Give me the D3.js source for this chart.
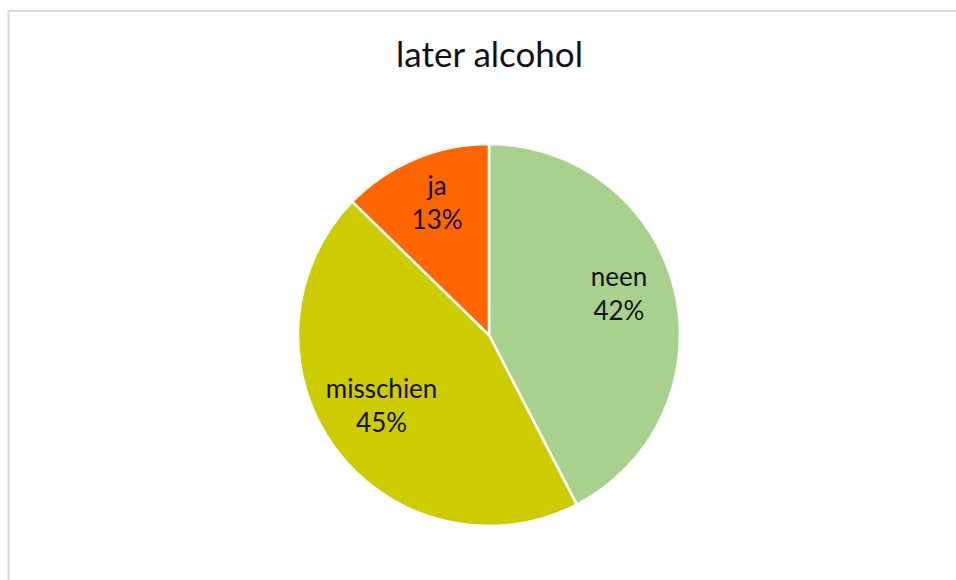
<!DOCTYPE html>
<html>
<head>
<meta charset="utf-8">
<script src="https://cdn.jsdelivr.net/npm/d3@7"></script>
<style>
  html, body { margin: 0; padding: 0; background: #fff; }
  svg { display: block; }
  text { font-family: Lato, "Open Sans", sans-serif; fill: #111; }
</style>
</head>
<body>
<svg id="chart" width="956" height="580"></svg>
<script>
const title = "later alcohol";
const categories = ["neen", "misschien", "ja"];
const values = [42.4, 44.9, 12.7];
const colors = ["#a9d18e", "#cccc00", "#ff6600"];

const W = 956, H = 580;
const cx = 489, cy = 335, R = 191;

const svg = d3.select("#chart");

// chart frame border
svg.append("rect")
  .attr("x", 8.5).attr("y", 11).attr("width", 1200).attr("height", 1200)
  .attr("fill", "none").attr("stroke", "#d9d9d9").attr("stroke-width", 2);

svg.append("text")
  .attr("x", 489.5).attr("y", 67)
  .attr("text-anchor", "middle")
  .style("font-size", "35px")
  .text(title);

const data = categories.map((c, i) => ({ cat: c, value: values[i], color: colors[i] }));
const total = d3.sum(values);

const pie = d3.pie().sort(null).value(d => d.value).startAngle(0).endAngle(2 * Math.PI);
const arcs = pie(data);

const arc = d3.arc().innerRadius(0).outerRadius(R);
const labelArc = d3.arc().innerRadius(R * 0.7).outerRadius(R * 0.7);

const g = svg.append("g").attr("transform", `translate(${cx},${cy})`);

g.selectAll("path.slice")
  .data(arcs)
  .join("path")
  .attr("class", "slice")
  .attr("d", arc)
  .attr("fill", d => d.data.color)
  .attr("stroke", "#ffffff")
  .attr("stroke-width", 2.5)
  .attr("stroke-linejoin", "round");

const fmt = v => Math.round(v / total * 100) + "%";

const labels = g.selectAll("text.lbl")
  .data(arcs)
  .join("text")
  .attr("class", "lbl")
  .attr("text-anchor", "middle")
  .style("font-size", "26px")
  .attr("transform", d => {
    const c = labelArc.centroid(d);
    return `translate(${c[0]},${c[1]})`;
  });

labels.append("tspan").attr("x", 0).attr("y", -17).text(d => d.data.cat);
labels.append("tspan").attr("x", 0).attr("y", 17).text(d => fmt(d.data.value));
</script>
</body>
</html>
